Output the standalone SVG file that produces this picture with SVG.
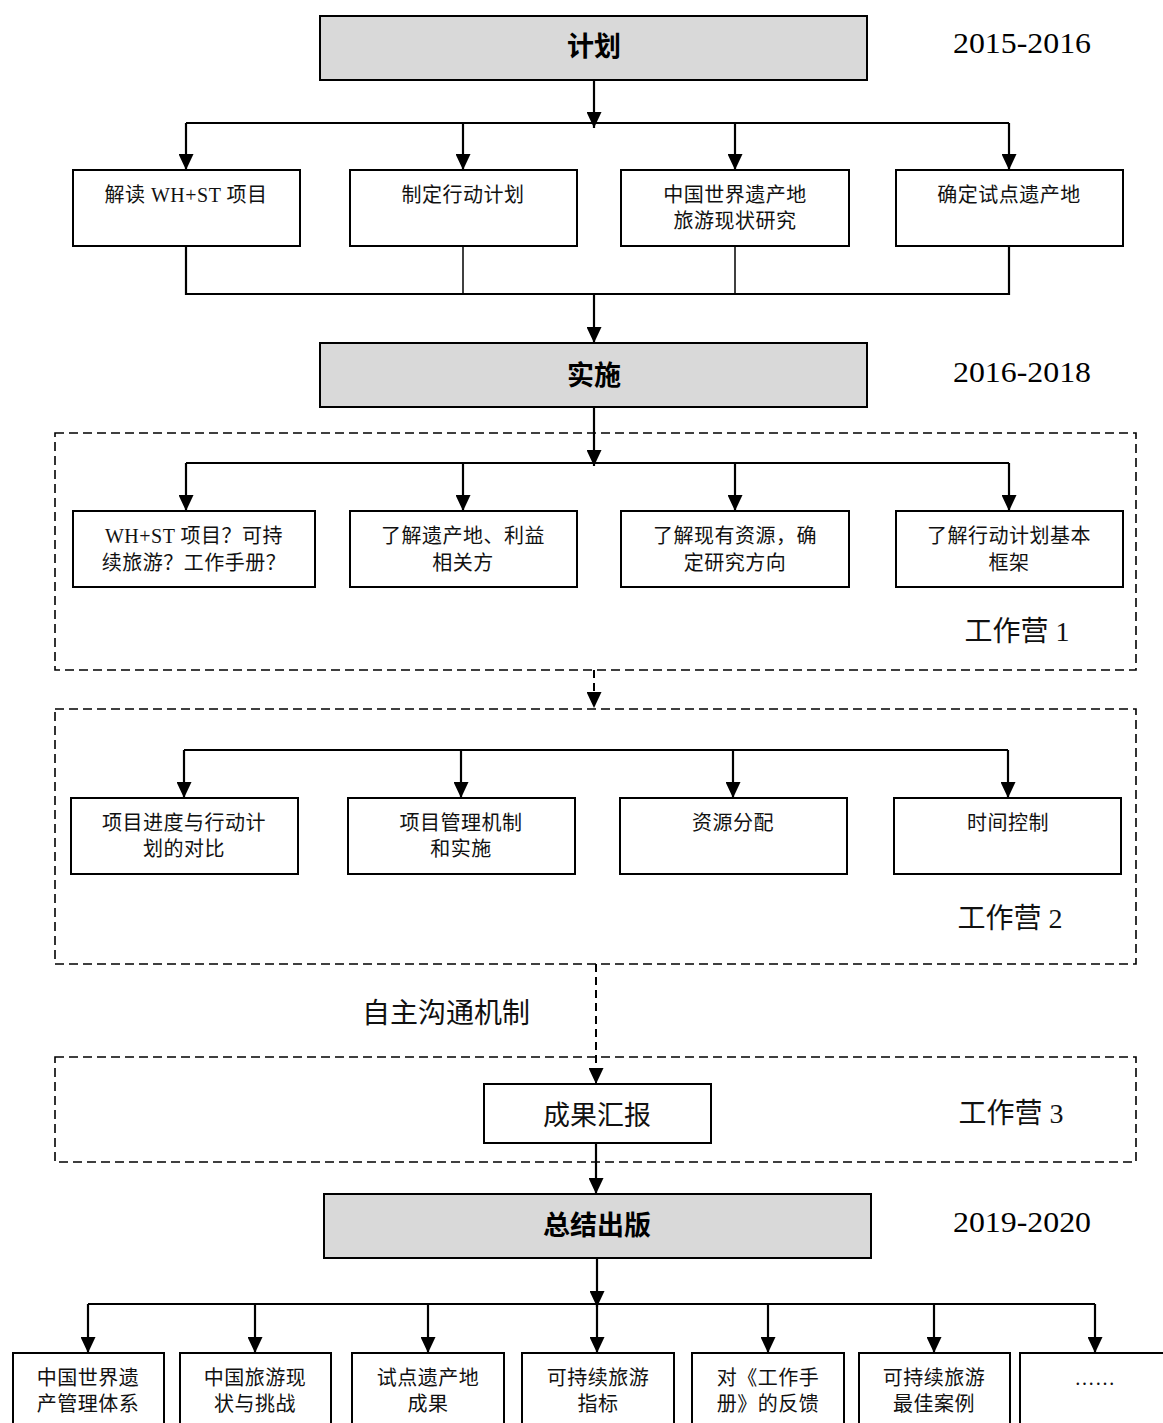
<svg xmlns="http://www.w3.org/2000/svg" width="1163" height="1423" viewBox="0 0 1163 1423">
<style>
.t{font-family:"Liberation Serif","Noto Sans CJK SC",serif;fill:#111;text-anchor:middle}
.bx{font-size:20px;letter-spacing:0.5px}
.hd{font-family:"Noto Sans CJK SC",sans-serif;font-weight:bold;font-size:27px;fill:#000;text-anchor:middle}
.dt{font-family:"Liberation Serif",serif;font-size:30px;fill:#000}
.lb{font-size:27px}
.cl{font-size:28px}
.box{fill:#fff;stroke:#000;stroke-width:2}
.hbox{fill:#d9d9d9;stroke:#000;stroke-width:2}
.dash{fill:none;stroke:#000;stroke-width:1.6;stroke-dasharray:9 5}
.ln{fill:none;stroke:#000;stroke-width:2.2}
.thin{fill:none;stroke:#000;stroke-width:1.5}
.dl{fill:none;stroke:#000;stroke-width:2;stroke-dasharray:8 5}
</style>
<defs>
<marker id="ad" markerUnits="userSpaceOnUse" markerWidth="17" markerHeight="15" refX="16" refY="7.5" orient="auto" viewBox="0 0 17 15">
<path d="M0,0 L16,7.5 L0,15 Z" fill="#000"/>
</marker>
</defs>

<g id="camps">
<rect id="camp1" class="dash" x="55" y="433" width="1081" height="237"/>
<rect id="camp2" class="dash" x="55" y="709" width="1081" height="255"/>
<rect id="camp3" class="dash" x="55" y="1057" width="1081" height="105"/>
</g>

<g id="connectors">
<path class="ln" d="M594,80 V128" marker-end="url(#ad)"/>
<path class="ln" d="M186,123 H1009"/>
<path class="ln" d="M186,123 V170" marker-end="url(#ad)"/>
<path class="ln" d="M463,123 V170" marker-end="url(#ad)"/>
<path class="ln" d="M735,123 V170" marker-end="url(#ad)"/>
<path class="ln" d="M1009,123 V170" marker-end="url(#ad)"/>
<path class="ln" d="M186,246 V294 H1009 V246"/>
<path class="thin" d="M463,246 V294"/>
<path class="thin" d="M735,246 V294"/>
<path class="ln" d="M594,294 V343" marker-end="url(#ad)"/>
<path class="ln" d="M594,407 V466" marker-end="url(#ad)"/>
<path class="ln" d="M186,463 H1009"/>
<path class="ln" d="M186,463 V511" marker-end="url(#ad)"/>
<path class="ln" d="M463,463 V511" marker-end="url(#ad)"/>
<path class="ln" d="M735,463 V511" marker-end="url(#ad)"/>
<path class="ln" d="M1009,463 V511" marker-end="url(#ad)"/>
<path class="dl" d="M594,670 V708" marker-end="url(#ad)"/>
<path class="ln" d="M184,750 H1008"/>
<path class="ln" d="M184,750 V798" marker-end="url(#ad)"/>
<path class="ln" d="M461,750 V798" marker-end="url(#ad)"/>
<path class="ln" d="M733,750 V798" marker-end="url(#ad)"/>
<path class="ln" d="M1008,750 V798" marker-end="url(#ad)"/>
<path class="dl" d="M596,964 V1084" marker-end="url(#ad)"/>
<path class="ln" d="M596,1143 V1194" marker-end="url(#ad)"/>
<path class="ln" d="M597,1258 V1307" marker-end="url(#ad)"/>
<path class="ln" d="M88,1304 H1095"/>
<path class="ln" d="M88,1304 V1353" marker-end="url(#ad)"/>
<path class="ln" d="M255,1304 V1353" marker-end="url(#ad)"/>
<path class="ln" d="M428,1304 V1353" marker-end="url(#ad)"/>
<path class="ln" d="M597,1304 V1353" marker-end="url(#ad)"/>
<path class="ln" d="M768,1304 V1353" marker-end="url(#ad)"/>
<path class="ln" d="M934,1304 V1353" marker-end="url(#ad)"/>
<path class="ln" d="M1095,1304 V1353" marker-end="url(#ad)"/>
</g>

<g id="plan"><rect class="hbox" x="320" y="16" width="547" height="64"/><text class="hd" x="594" y="56">计划</text></g>
<g id="date1"><text class="dt" x="953" y="53" textLength="138" lengthAdjust="spacingAndGlyphs">2015-2016</text></g>

<g id="p1"><rect class="box" x="73" y="170" width="227" height="76"/><text class="t bx" x="186" y="202">解读 WH+ST 项目</text></g>
<g id="p2"><rect class="box" x="350" y="170" width="227" height="76"/><text class="t bx" x="463" y="202">制定行动计划</text></g>
<g id="p3"><rect class="box" x="621" y="170" width="228" height="76"/><text class="t bx" x="735" y="202">中国世界遗产地</text><text class="t bx" x="735" y="228">旅游现状研究</text></g>
<g id="p4"><rect class="box" x="896" y="170" width="227" height="76"/><text class="t bx" x="1009" y="202">确定试点遗产地</text></g>

<g id="impl"><rect class="hbox" x="320" y="343" width="547" height="64"/><text class="hd" x="594" y="385">实施</text></g>
<g id="date2"><text class="dt" x="953" y="382" textLength="138" lengthAdjust="spacingAndGlyphs">2016-2018</text></g>

<g id="w1a"><rect class="box" x="73" y="511" width="242" height="76"/><text class="t bx" x="194" y="543">WH+ST 项目？可持</text><text class="t bx" x="194" y="570">续旅游？工作手册？</text></g>
<g id="w1b"><rect class="box" x="350" y="511" width="227" height="76"/><text class="t bx" x="463" y="543">了解遗产地、利益</text><text class="t bx" x="463" y="570">相关方</text></g>
<g id="w1c"><rect class="box" x="621" y="511" width="228" height="76"/><text class="t bx" x="735" y="543">了解现有资源，确</text><text class="t bx" x="735" y="570">定研究方向</text></g>
<g id="w1d"><rect class="box" x="896" y="511" width="227" height="76"/><text class="t bx" x="1009" y="543">了解行动计划基本</text><text class="t bx" x="1009" y="570">框架</text></g>
<g id="camp1label"><text class="t cl" x="1017" y="641">工作营 1</text></g>

<g id="w2a"><rect class="box" x="71" y="798" width="227" height="76"/><text class="t bx" x="184" y="830">项目进度与行动计</text><text class="t bx" x="184" y="856">划的对比</text></g>
<g id="w2b"><rect class="box" x="348" y="798" width="227" height="76"/><text class="t bx" x="461" y="830">项目管理机制</text><text class="t bx" x="461" y="856">和实施</text></g>
<g id="w2c"><rect class="box" x="620" y="798" width="227" height="76"/><text class="t bx" x="733" y="830">资源分配</text></g>
<g id="w2d"><rect class="box" x="894" y="798" width="227" height="76"/><text class="t bx" x="1008" y="830">时间控制</text></g>
<g id="camp2label"><text class="t cl" x="1010" y="928">工作营 2</text></g>

<g id="selfcomm"><text class="t cl" x="446" y="1023">自主沟通机制</text></g>

<g id="report"><rect class="box" x="484" y="1084" width="227" height="59"/><text class="t lb" x="597" y="1125">成果汇报</text></g>
<g id="camp3label"><text class="t cl" x="1011" y="1123">工作营 3</text></g>

<g id="publish"><rect class="hbox" x="324" y="1194" width="547" height="64"/><text class="hd" x="597" y="1235">总结出版</text></g>
<g id="date3"><text class="dt" x="953" y="1232" textLength="138" lengthAdjust="spacingAndGlyphs">2019-2020</text></g>

<g id="o1"><rect class="box" x="13" y="1353" width="151" height="80"/><text class="t bx" x="88" y="1385">中国世界遗</text><text class="t bx" x="88" y="1411">产管理体系</text></g>
<g id="o2"><rect class="box" x="180" y="1353" width="151" height="80"/><text class="t bx" x="255" y="1385">中国旅游现</text><text class="t bx" x="255" y="1411">状与挑战</text></g>
<g id="o3"><rect class="box" x="352" y="1353" width="152" height="80"/><text class="t bx" x="428" y="1385">试点遗产地</text><text class="t bx" x="428" y="1411">成果</text></g>
<g id="o4"><rect class="box" x="522" y="1353" width="152" height="80"/><text class="t bx" x="598" y="1385">可持续旅游</text><text class="t bx" x="598" y="1411">指标</text></g>
<g id="o5"><rect class="box" x="692" y="1353" width="152" height="80"/><text class="t bx" x="768" y="1385">对《工作手</text><text class="t bx" x="768" y="1411">册》的反馈</text></g>
<g id="o6"><rect class="box" x="859" y="1353" width="151" height="80"/><text class="t bx" x="934" y="1385">可持续旅游</text><text class="t bx" x="934" y="1411">最佳案例</text></g>
<g id="o7"><rect class="box" x="1020" y="1353" width="150" height="80"/><text class="t bx" x="1095" y="1385">……</text></g>
</svg>
